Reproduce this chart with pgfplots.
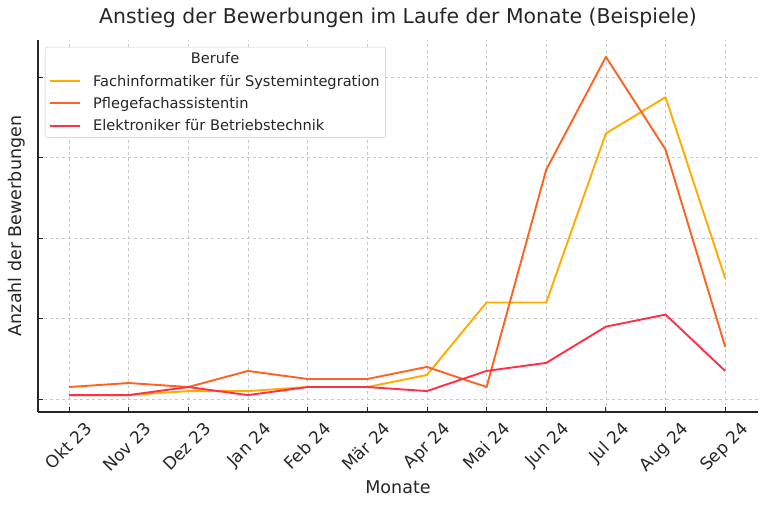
\documentclass[border=0pt]{standalone}
\usepackage{pgfplots}
\pgfplotsset{compat=1.18}
\usepackage{fontspec}
\setmainfont{DejaVu Sans}

\definecolor{cFach}{RGB}{255,172,0}
\definecolor{cPfl}{RGB}{255,98,32}
\definecolor{cElek}{RGB}{255,48,72}
\definecolor{txt}{RGB}{38,38,38}
\definecolor{gridc}{RGB}{200,200,200}

\begin{document}
\begin{tikzpicture}
  \useasboundingbox (0,0) rectangle (768bp,512bp);
  \begin{axis}[
      at={(38bp,100bp)}, anchor=south west,
      scale only axis,
      width=720bp, height=372bp,
      xmin=-0.52, xmax=11.55,
      ymin=-3.2, ymax=89.2,
      axis x line*=bottom, axis y line*=left,
      axis line style={txt, line width=1.1bp, -},
      xtick={0,...,11},
      xticklabels={Okt 23,Nov 23,Dez 23,Jan 24,Feb 24,Mär 24,Apr 24,Mai 24,Jun 24,Jul 24,Aug 24,Sep 24},
      ytick={0,20,40,60,80},
      yticklabels={},
      tick align=inside,
      major tick length=5bp,
      tick style={txt, line width=0.8bp},
      grid=major,
      major grid style={gridc, dashed, line width=0.7bp},
      xticklabel style={font=\fontsize{17bp}{20bp}\selectfont, text=txt,
                        xshift=15bp, yshift=-4bp, rotate=45, anchor=north east},
      title={Anstieg der Bewerbungen im Laufe der Monate (Beispiele)},
      title style={font=\fontsize{20.4bp}{24bp}\selectfont, text=txt,
                   at={(axis description cs:0.5,1.043)}, anchor=center},
      xlabel={Monate},
      xlabel style={font=\fontsize{17.5bp}{21bp}\selectfont, text=txt,
                    at={(axis description cs:0.5,-0.2016)}, anchor=center},
      ylabel={Anzahl der Bewerbungen},
      ylabel style={font=\fontsize{17.5bp}{21bp}\selectfont, text=txt,
                    at={(axis description cs:-0.029,0.5)}, anchor=center},
      every axis plot/.append style={line width=1.9bp, line join=round},
      legend style={at={(axis description cs:0.0097,0.981)}, anchor=north west,
                    font=\fontsize{14.6bp}{17bp}\selectfont, text=txt,
                    draw=gridc, rounded corners=2bp, fill=white,
                    inner xsep=4bp, inner ysep=3.5bp, row sep=5.6bp},
      legend cell align=left,
      legend image code/.code={\draw[#1, line width=1.9bp] (0bp,0bp) -- (30bp,0bp);
                               \path (40bp,0bp);},
    ]
    \addlegendimage{empty legend}
    \addlegendentry{\hspace*{122bp}\makebox[0pt][c]{Berufe}}

    \addplot[cFach] coordinates {
      (0,1) (1,1) (2,2) (3,2) (4,3) (5,3) (6,6) (7,24) (8,24) (9,66) (10,75) (11,30)};
    \addlegendentry{Fachinformatiker für Systemintegration}

    \addplot[cPfl] coordinates {
      (0,3) (1,4) (2,3) (3,7) (4,5) (5,5) (6,8) (7,3) (8,57) (9,85) (10,62) (11,13)};
    \addlegendentry{Pflegefachassistentin}

    \addplot[cElek] coordinates {
      (0,1) (1,1) (2,3) (3,1) (4,3) (5,3) (6,2) (7,7) (8,9) (9,18) (10,21) (11,7)};
    \addlegendentry{Elektroniker für Betriebstechnik}
  \end{axis}
\end{tikzpicture}
\end{document}
